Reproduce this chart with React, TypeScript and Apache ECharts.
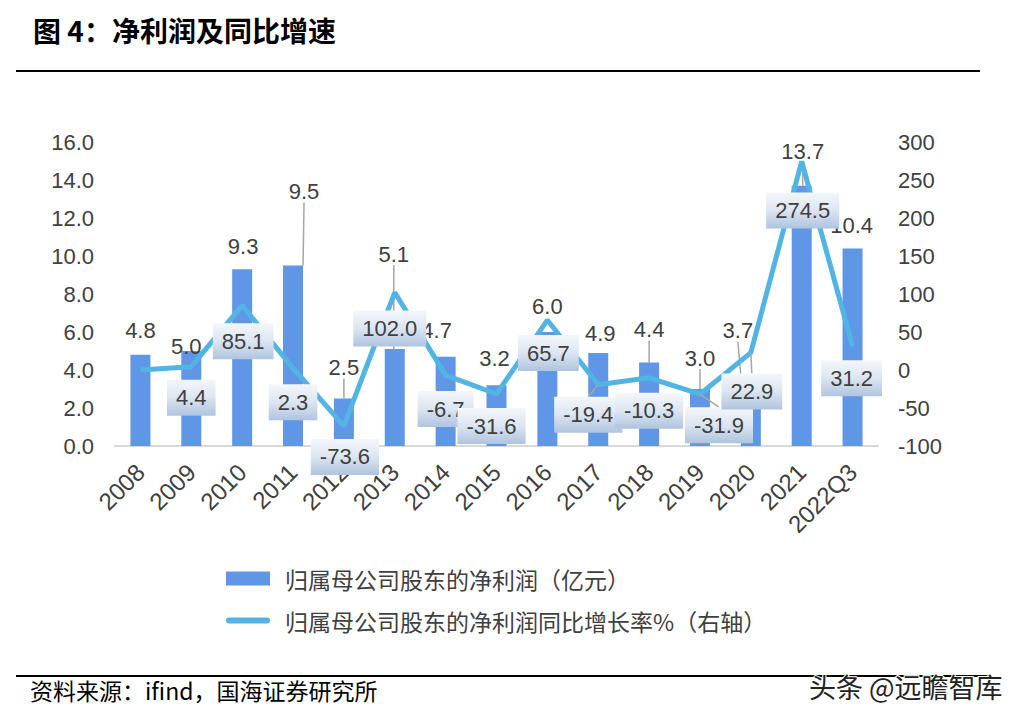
import React, { useEffect, useRef } from "react";
import * as echarts from "echarts";

const categories = ["2008", "2009", "2010", "2011", "2012", "2013", "2014", "2015", "2016", "2017", "2018", "2019", "2020", "2021", "2022Q3"];
const netProfit = [4.8, 5.0, 9.3, 9.5, 2.5, 5.1, 4.7, 3.2, 6.0, 4.9, 4.4, 3.0, 3.7, 13.7, 10.4];
const growth = [0, 4.4, 85.1, 2.3, -73.6, 102.0, -6.7, -31.6, 65.7, -19.4, -10.3, -31.9, 22.9, 274.5, 31.2];
const growthLabelShown = [false, true, true, true, true, true, true, true, true, true, true, true, true, true, true];

const barName = "归属母公司股东的净利润（亿元）";
const lineName = "归属母公司股东的净利润同比增长率%（右轴）";
const titleText = "图 4：净利润及同比增速";
const sourceText = "资料来源：ifind，国海证券研究所";
const watermarkText = "头条 @远瞻智库";

// label nudges (pixels) to mimic hand-placed labels
const barLabelNudge = [[0, -8], [-5, 11], [1, -7], [11, -58], [0, -15], [-1, -79], [-9, -10], [-2, -11], [0, -10], [2, -3], [0, -17], [0, -15], [-13, -29], [1, -18], [-1, -7]];
const barLeader = [false, false, false, true, true, true, false, false, false, false, true, true, true, true, false];
const lineLabelNudge = [[0, 0], [0, 31], [1, 36], [0, 34], [1, 31], [-5, 36], [0, 34], [-5, 32], [1, 33], [-10, 30], [0, 33], [19, 31], [1, 39], [1, 49], [-1, 32]];
const lineLeader = [false, false, false, false, false, false, false, false, false, true, false, true, true, false, false];

const FONT = '"Liberation Sans", Arial, "Noto Sans CJK SC", sans-serif';
const CJK = '"Noto Sans CJK SC", sans-serif';
const TEXT = "#404040";
const BAR = "#5F96E6";
const LINE = "#52B4E4";

export default function App() {
  const ref = useRef<HTMLDivElement>(null);
  useEffect(() => {
    document.body.style.margin = "0";
    const chart = echarts.init(ref.current!, null, { renderer: "svg" });
    const boxBg = new echarts.graphic.LinearGradient(0, 0, 0, 1, [
      { offset: 0, color: "#F4F7FB" },
      { offset: 0.5, color: "#DCE5F1" },
      { offset: 1, color: "#AFC4DF" },
    ]);
    chart.setOption({
      animation: false,
      textStyle: { fontFamily: FONT },
      grid: { left: 115, right: 141, top: 142, bottom: 277 },
      legend: {
        orient: "vertical",
        left: 221,
        top: 562,
        itemWidth: 44,
        itemHeight: 14,
        itemGap: 19,
        textStyle: { fontSize: 23, color: TEXT, fontFamily: CJK, padding: [0, 0, 0, 10] },
        data: [
          { name: barName, icon: "rect", itemStyle: { color: BAR } },
          { name: lineName, icon: "path://M3,0 L41,0 A3,3 0 0 1 41,6 L3,6 A3,3 0 0 1 3,0 Z", itemStyle: { color: LINE } },
        ],
      },
      xAxis: {
        type: "category",
        data: categories,
        axisLine: { lineStyle: { color: "#D9D9D9", width: 2 } },
        axisTick: { show: false },
        axisLabel: { rotate: 45, fontSize: 24, color: TEXT, margin: 22, interval: 0 },
      },
      yAxis: [
        {
          type: "value",
          min: 0,
          max: 16,
          interval: 2,
          axisLine: { show: false },
          axisTick: { show: false },
          splitLine: { show: false },
          axisLabel: { fontSize: 22, color: TEXT, margin: 21, formatter: (v: number) => v.toFixed(1) },
        },
        {
          type: "value",
          min: -100,
          max: 300,
          interval: 50,
          axisLine: { show: false },
          axisTick: { show: false },
          splitLine: { show: false },
          axisLabel: { fontSize: 22, color: TEXT, margin: 20 },
        },
      ],
      series: [
        {
          name: barName,
          type: "bar",
          barWidth: 20,
          itemStyle: { color: BAR },
          data: netProfit.map((v, i) => ({ value: v, labelLine: { show: barLeader[i] } })),
          label: {
            show: true,
            position: "top",
            distance: 5,
            fontSize: 22,
            color: TEXT,
            formatter: (p: any) => Number(p.value).toFixed(1),
          },
          labelLine: { show: false, lineStyle: { color: "#A6A6A6", width: 1.5 } },
          labelLayout: (p: any) => ({ dx: barLabelNudge[p.dataIndex][0], dy: barLabelNudge[p.dataIndex][1] }),
        },
        {
          name: lineName,
          type: "line",
          yAxisIndex: 1,
          z: 4,
          symbol: "circle",
          symbolSize: 0.1,
          showSymbol: true,
          itemStyle: { color: LINE },
          lineStyle: { color: LINE, width: 5 },
          data: growth.map((v, i) => ({ value: v, label: { show: growthLabelShown[i] }, labelLine: { show: lineLeader[i] } })),
          label: {
            show: true,
            position: "inside",
            fontSize: 22,
            color: TEXT,
            backgroundColor: boxBg,
            padding: [8, 9, 6, 9],
            formatter: (p: any) => Number(p.value).toFixed(1),
          },
          labelLine: { show: false, lineStyle: { color: "#A6A6A6", width: 1.5 } },
          labelLayout: (p: any) => ({ dx: lineLabelNudge[p.dataIndex][0], dy: lineLabelNudge[p.dataIndex][1] }),
        },
      ],
      graphic: [
        {
          type: "text",
          left: 33,
          top: 16,
          style: { text: titleText, fontSize: 28, fontWeight: "bold", fill: "#000", fontFamily: CJK },
        },
        { type: "line", shape: { x1: 16, y1: 71, x2: 980, y2: 71 }, style: { stroke: "#000", lineWidth: 2 } },
        { type: "line", shape: { x1: 16, y1: 676, x2: 990, y2: 676 }, style: { stroke: "#000", lineWidth: 2 } },
        {
          type: "text",
          left: 30,
          top: 678,
          style: { text: sourceText, fontSize: 23, fill: "#000", fontFamily: CJK },
        },
        {
          type: "text",
          left: 808,
          top: 672,
          z: 10,
          style: { text: watermarkText, fontSize: 27, fill: "#222", stroke: "#fff", lineWidth: 2, fontFamily: CJK },
        },
      ],
    });
    return () => chart.dispose();
  }, []);
  return <div ref={ref} style={{ width: 1019, height: 723 }} />;
}
